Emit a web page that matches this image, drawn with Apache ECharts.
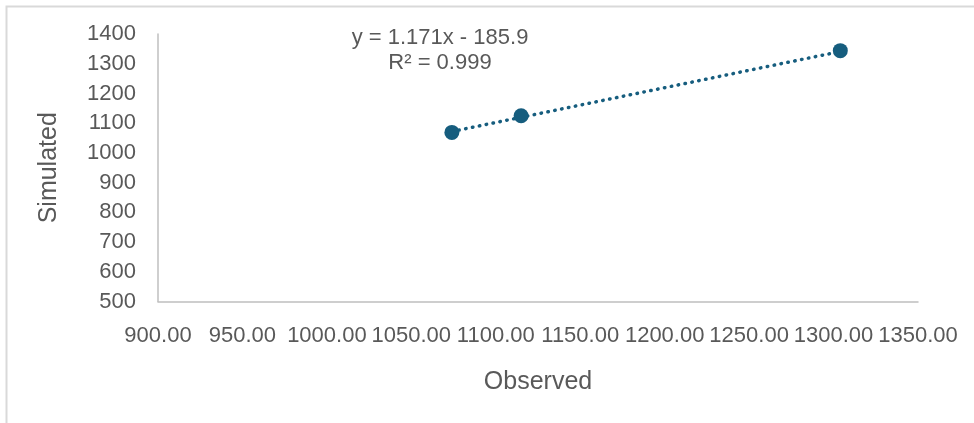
<!DOCTYPE html>
<html><head><meta charset="utf-8">
<script src="https://cdn.jsdelivr.net/npm/echarts@6/dist/echarts.min.js"></script>
<style>html,body{margin:0;padding:0;background:#fff}#c{width:974px;height:423px}</style>
</head><body><div id="c"></div>
<script>
const observed = [1074, 1115, 1304];
const simulated = [1069, 1125, 1344];
const trendSlope = 1.171;
const trendIntercept = -185.9;
const equationText = 'y = 1.171x - 185.9';
const r2Text = 'R² = 0.999';
const xName = 'Observed';
const yName = 'Simulated';

const pts = observed.map((x, i) => [x, simulated[i]]);
const xMin = Math.min(...observed), xMax = Math.max(...observed);
const trend = [[xMin, trendSlope * xMin + trendIntercept], [xMax, trendSlope * xMax + trendIntercept]];

const FONT = 'Liberation Sans, Arial, sans-serif';
const TXT = '#595959';
const chart = echarts.init(document.getElementById('c'), null, {renderer: 'canvas'});
chart.setOption({
  animation: false,
  backgroundColor: '#fff',
  grid: {left: 158, right: 56, top: 34, bottom: 121.5},
  xAxis: {
    type: 'value', min: 900, max: 1350, interval: 50,
    name: xName, nameLocation: 'middle', nameGap: 68,
    nameTextStyle: {fontFamily: FONT, fontSize: 25, color: TXT},
    axisLine: {show: true, onZero: false, lineStyle: {color: '#bfbfbf', width: 1.5}},
    axisTick: {show: false}, splitLine: {show: false},
    axisLabel: {fontFamily: FONT, fontSize: 22, color: TXT, margin: 23,
      formatter: v => v.toFixed(2), showMinLabel: true, showMaxLabel: true, hideOverlap: false}
  },
  yAxis: {
    type: 'value', min: 500, max: 1400, interval: 100,
    name: yName, nameLocation: 'middle', nameGap: 96,
    nameTextStyle: {fontFamily: FONT, fontSize: 25, color: TXT},
    axisLine: {show: true, onZero: false, lineStyle: {color: '#bfbfbf', width: 1.5}},
    axisTick: {show: false}, splitLine: {show: false},
    axisLabel: {fontFamily: FONT, fontSize: 22, color: TXT, margin: 22, formatter: v => String(v)}
  },
  graphic: [
    {type: 'rect', shape: {x: 6.5, y: 6.5, width: 1100, height: 600}, style: {fill: 'none', stroke: '#d9d9d9', lineWidth: 2}, silent: true, z: -1},
    {type: 'text', x: 440, y: 38, style: {text: equationText, font: '22px ' + FONT, fill: TXT, align: 'center', verticalAlign: 'middle'}},
    {type: 'text', x: 440, y: 63, style: {text: r2Text, font: '22px ' + FONT, fill: TXT, align: 'center', verticalAlign: 'middle'}}
  ],
  series: [
    {type: 'line', data: trend, symbol: 'none', silent: true,
      lineStyle: {color: '#165d7e', width: 3.5, type: [0.5, 6.5], cap: 'round'}, z: 1},
    {type: 'scatter', data: pts, symbol: 'circle', symbolSize: 15,
      itemStyle: {color: '#165d7e', opacity: 1}, z: 2}
  ]
});
</script></body></html>
